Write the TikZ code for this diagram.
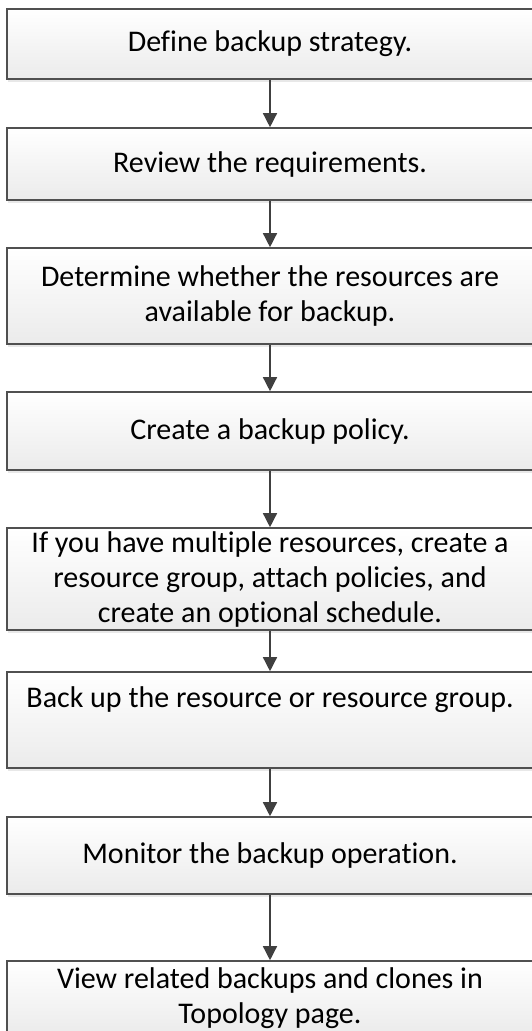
\documentclass[tikz,border=0pt]{standalone}
\usepackage{fontspec}
\setmainfont[Ligatures=NoCommon]{Carlito}
\usetikzlibrary{arrows.meta, shadows}
\definecolor{borderColor}{HTML}{505050}
\definecolor{arrowColor}{HTML}{404040}
\definecolor{shadeColor}{HTML}{EBEBEB}

\begin{document}
\begin{tikzpicture}[x=1pt, y=-1pt,
    stepBox/.style={draw=borderColor, line width=1.6pt, top color=white, bottom color=shadeColor,
        minimum width=526pt, inner sep=0pt, align=center,
        font=\fontsize{30}{35}\selectfont,
        drop shadow={opacity=0.18, shadow xshift=1pt, shadow yshift=-3pt}},
    flowArrow/.style={draw=arrowColor, line width=1.4pt, -{Triangle[width=14pt, length=14pt]}}]
    \useasboundingbox (0,0) rectangle (532,1031);
    \node[stepBox, minimum height=70pt] (strategy) at (270,44) {Define backup strategy.};
    \node[stepBox, minimum height=72pt] (requirements) at (270,164) {Review the requirements.};
    \node[stepBox, minimum height=96pt] (resources) at (270,296)
        {Determine whether the resources are\\available for backup.};
    \node[stepBox, minimum height=78pt] (policy) at (270,431) {Create a backup policy.};
    \node[stepBox, minimum height=102pt] (group) at (270,579)
        {If you have multiple resources, create a\\resource group, attach policies, and\\create an optional schedule.};
    \node[stepBox, minimum height=96pt] (backup) at (270,720)
        {Back up the resource or resource group.\\\strut};
    \node[stepBox, minimum height=77pt] (monitor) at (270,855.5) {Monitor the backup operation.};
    \node[stepBox, minimum height=74pt] (topology) at (270,998)
        {View related backups and clones in\\Topology page.};
    % connectors
    \draw[flowArrow] (strategy) -- (requirements);
    \draw[flowArrow] (requirements) -- (resources);
    \draw[flowArrow] (resources) -- (policy);
    \draw[flowArrow] (policy) -- (group);
    \draw[flowArrow] (group) -- (backup);
    \draw[flowArrow] (backup) -- (monitor);
    \draw[flowArrow] (monitor) -- (topology);
\end{tikzpicture}
\end{document}
